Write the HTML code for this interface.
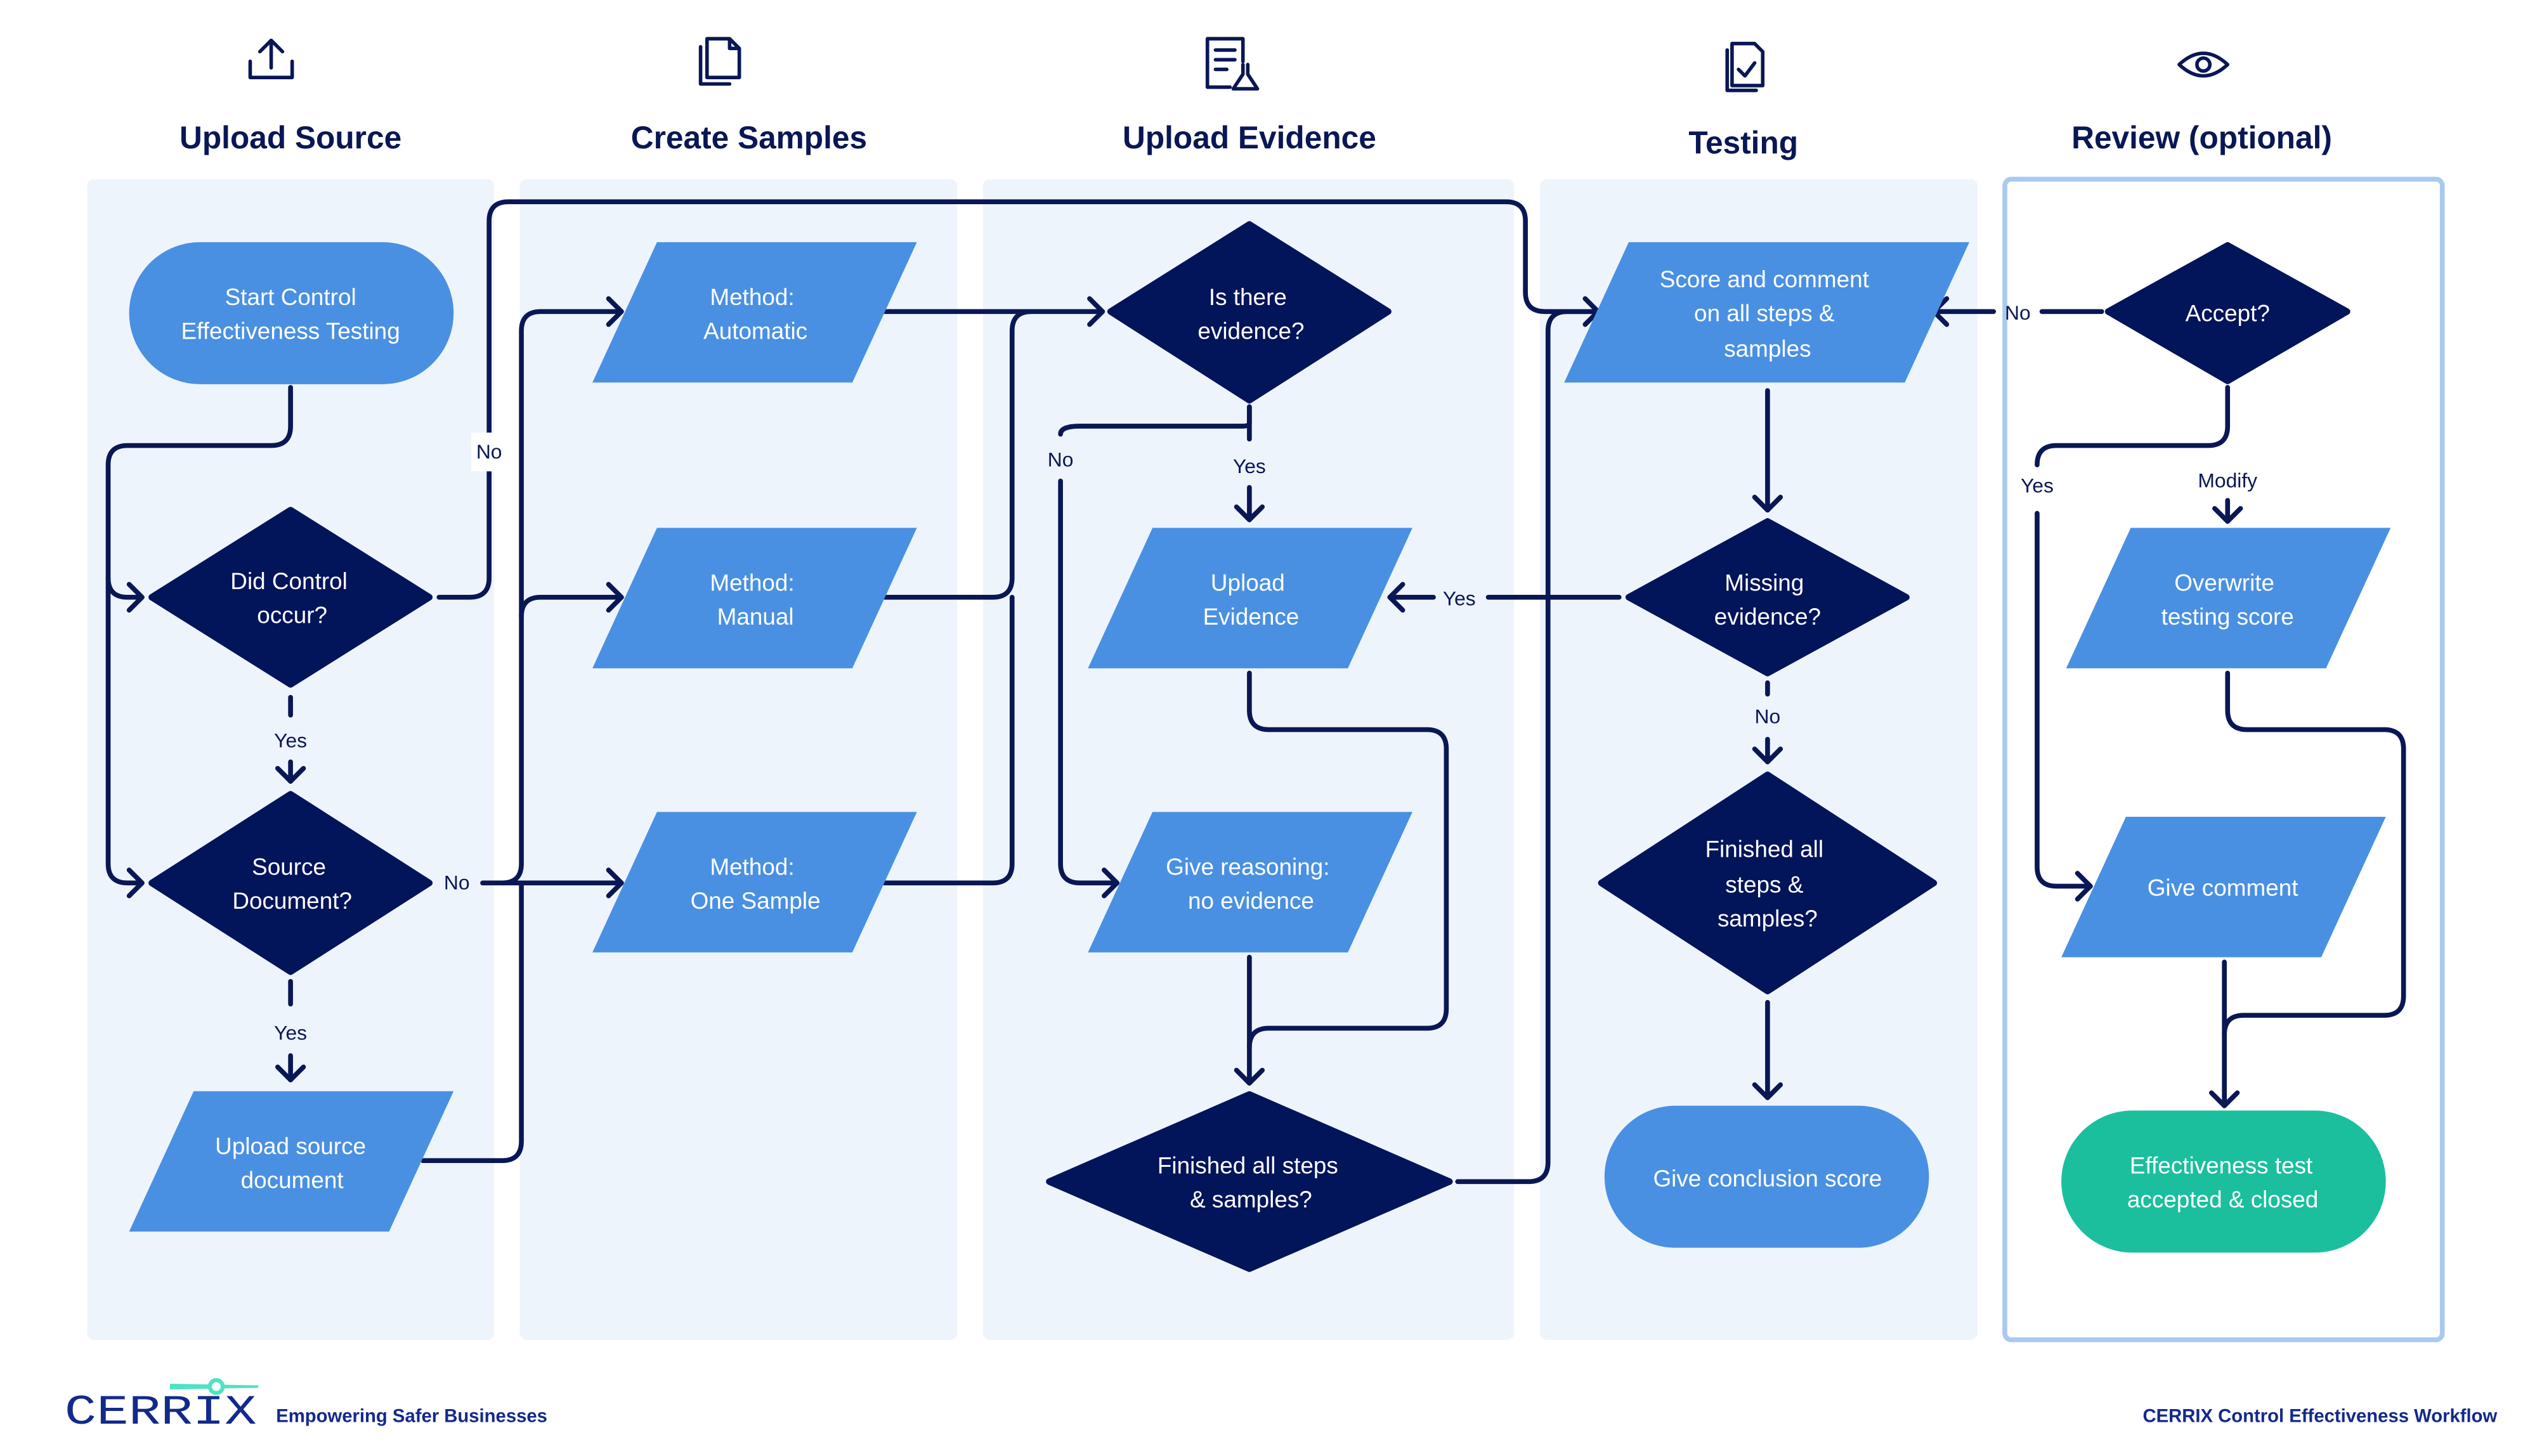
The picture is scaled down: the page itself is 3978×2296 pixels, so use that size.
<!DOCTYPE html>
<html><head><meta charset="utf-8"><style>
html,body{margin:0;padding:0;background:#fff}
svg{display:block}
text{font-family:"Liberation Sans",sans-serif}
.t{fill:#fff;font-size:14.5px;text-anchor:middle}
.h{fill:#0A1755;font-size:19.5px;font-weight:bold;text-anchor:middle}
.l{fill:#0A1755;font-size:12.5px;text-anchor:middle}
.c{fill:none;stroke:#0A1755;stroke-width:3;stroke-linecap:round;stroke-linejoin:round}
.ic{fill:none;stroke:#0A1755;stroke-width:2.2;stroke-linecap:round;stroke-linejoin:round}
</style></head><body>
<svg width="3978" height="2296" viewBox="0 0 1563 902" preserveAspectRatio="none" xmlns="http://www.w3.org/2000/svg">
<rect width="1563" height="902" fill="#fff"/>
<rect x="54" y="111" width="252" height="719" rx="4" fill="#EDF4FC"/>
<rect x="322" y="111" width="271" height="719" rx="4" fill="#EDF4FC"/>
<rect x="609" y="111" width="329" height="719" rx="4" fill="#EDF4FC"/>
<rect x="954" y="111" width="271" height="719" rx="4" fill="#EDF4FC"/>
<rect x="1242" y="111" width="271" height="719" rx="4" fill="#fff" stroke="#A9C9F1" stroke-width="3"/>
<text class="h" x="180" y="92">Upload Source</text>
<text class="h" x="464" y="92">Create Samples</text>
<text class="h" x="774" y="92">Upload Evidence</text>
<text class="h" x="1080" y="95">Testing</text>
<text class="h" x="1364" y="92">Review (optional)</text>
<g class="ic">
<path d="M155,38 V48 H181 V38 M168,26 V42 M161,32 L168,25 L175,32"/>
<path d="M438,24 H452 L458,30 V48 H438 Z M452,24 V30 H458 M434,29 V52 H452"/>
<path d="M748,24 H770 V38 M748,24 V54 H762 M753,31 H765 M753,37 H765 M753,43 H760 M770,40 V46 L764,55 H779 L773,46 V40"/>
<path d="M1073,27 H1087 L1092,32 V53 H1073 Z M1070,31 V56 H1088 M1077,43 L1081,47 L1087,39"/>
<path d="M1350,40 Q1365,26 1380,40 Q1365,54 1350,40 Z"/>
<circle cx="1365" cy="40" r="4"/>
</g>
<g class="c">
<path d="M180,240 V264 Q180,276 168,276 H79 Q67,276 67,288 V535 Q67,547 79,547 H88"/>
<path d="M67,358 Q67,370 79,370 H88"/>
<path d="M80,362 L88,370 L80,378"/><path d="M80,539 L88,547 L80,555"/>
<path d="M272,370 H291 Q303,370 303,358 V137 Q303,125 315,125 H933 Q945,125 945,137 V181 Q945,193 957,193 H990"/>
<path d="M982,185 L990,193 L982,201"/>
<path d="M180,432 V443"/><path d="M180,472 V484"/><path d="M172,476 L180,484 L188,476"/>
<path d="M299,547 H385"/><path d="M377,539 L385,547 L377,555"/>
<path d="M311,547 Q323,547 323,535 V205 Q323,193 335,193 H385"/><path d="M377,185 L385,193 L377,201"/>
<path d="M323,382 Q323,370 335,370 H385"/><path d="M377,362 L385,370 L377,378"/>
<path d="M262,719 H311 Q323,719 323,707 V547"/>
<path d="M180,608 V622"/><path d="M180,654 V669"/><path d="M172,661 L180,669 L188,661"/>
<path d="M548,193 H683"/><path d="M675,185 L683,193 L675,201"/>
<path d="M548,370 H615 Q627,370 627,358 V205 Q627,193 639,193"/>
<path d="M548,547 H615 Q627,547 627,535 V370"/>
<path d="M774,252 V262 Q774,264 770,264 H669 Q657,264 657,269"/>
<path d="M657,298 V535 Q657,547 669,547 H692"/><path d="M684,539 L692,547 L684,555"/>
<path d="M774,252 V272"/><path d="M774,302 V322"/><path d="M766,314 L774,322 L782,314"/>
<path d="M1003,370 H922"/><path d="M888,370 H861"/><path d="M869,362 L861,370 L869,378"/>
<path d="M774,417 V440 Q774,452 786,452 H884 Q896,452 896,464 V625 Q896,637 884,637 H786 Q774,637 774,649 V671"/>
<path d="M774,593 V649"/><path d="M766,663 L774,671 L782,663"/>
<path d="M903,732 H947 Q959,732 959,720 V205 Q959,193 971,193 H990"/>
<path d="M1095,242 V316"/><path d="M1087,308 L1095,316 L1103,308"/>
<path d="M1095,423 V430"/><path d="M1095,458 V472"/><path d="M1087,464 L1095,472 L1103,464"/>
<path d="M1095,621 V680"/><path d="M1087,672 L1095,680 L1103,672"/>
<path d="M1302,193 H1265"/><path d="M1235,193 H1198"/><path d="M1206,185 L1198,193 L1206,201"/>
<path d="M1380,240 V264 Q1380,276 1368,276 H1274 Q1262,276 1262,288"/>
<path d="M1262,318 V537 Q1262,549 1274,549 H1295"/><path d="M1287,541 L1295,549 L1287,557"/>
<path d="M1380,310 V323"/><path d="M1372,315 L1380,323 L1388,315"/>
<path d="M1380,417 V440 Q1380,452 1392,452 H1477 Q1489,452 1489,464 V617 Q1489,629 1477,629 H1390 Q1378,629 1378,641 V685"/>
<path d="M1378,596 V641"/><path d="M1370,677 L1378,685 L1386,677"/>
</g>
<rect x="292" y="268" width="22" height="24" fill="#fff"/>
<text class="l" x="303" y="284">No</text>
<text class="l" x="180" y="463">Yes</text>
<text class="l" x="283" y="551">No</text>
<text class="l" x="180" y="644">Yes</text>
<text class="l" x="657" y="289">No</text>
<text class="l" x="774" y="293">Yes</text>
<text class="l" x="904" y="375">Yes</text>
<text class="l" x="1095" y="448">No</text>
<text class="l" x="1250" y="198">No</text>
<text class="l" x="1262" y="305">Yes</text>
<text class="l" x="1380" y="302">Modify</text>
<g fill="#4A90E2">
<rect x="80" y="150" width="201" height="88" rx="44"/>
<path d="M120,676 H281 L241,763 H80 Z"/>
<path d="M407,150 H568 L528,237 H367 Z"/>
<path d="M407,327 H568 L528,414 H367 Z"/>
<path d="M407,503 H568 L528,590 H367 Z"/>
<path d="M714,327 H875 L835,414 H674 Z"/>
<path d="M714,503 H875 L835,590 H674 Z"/>
<path d="M1009,150 H1220 L1180,237 H969 Z"/>
<rect x="994" y="685" width="201" height="88" rx="44"/>
<path d="M1320,327 H1481 L1441,414 H1280 Z"/>
<path d="M1317,506 H1478 L1438,593 H1277 Z"/>
</g>
<rect x="1277" y="688" width="201" height="88" rx="44" fill="#1BBF9E"/>
<g fill="#02145A" stroke="#02145A" stroke-width="4" stroke-linejoin="round">
<path d="M180,316 L266,370 L180,424 L94,370 Z"/>
<path d="M180,492 L266,547 L180,602 L94,547 Z"/>
<path d="M774,139 L860,193 L774,248 L688,193 Z"/>
<path d="M774,678 L898,732 L774,786 L650,732 Z"/>
<path d="M1095,323 L1181,370 L1095,417 L1009,370 Z"/>
<path d="M1095,480 L1198,547 L1095,614 L992,547 Z"/>
<path d="M1380,152 L1454,193 L1380,236 L1306,193 Z"/>
</g>
<text class="t" x="180" y="189">Start Control</text><text class="t" x="180" y="210">Effectiveness Testing</text>
<text class="t" x="179" y="365">Did Control</text><text class="t" x="181" y="386">occur?</text>
<text class="t" x="179" y="542">Source</text><text class="t" x="181" y="563">Document?</text>
<text class="t" x="180" y="715">Upload source</text><text class="t" x="181" y="736">document</text>
<text class="t" x="466" y="189">Method:</text><text class="t" x="468" y="210">Automatic</text>
<text class="t" x="466" y="366">Method:</text><text class="t" x="468" y="387">Manual</text>
<text class="t" x="466" y="542">Method:</text><text class="t" x="468" y="563">One Sample</text>
<text class="t" x="773" y="189">Is there</text><text class="t" x="775" y="210">evidence?</text>
<text class="t" x="773" y="366">Upload</text><text class="t" x="775" y="387">Evidence</text>
<text class="t" x="773" y="542">Give reasoning:</text><text class="t" x="775" y="563">no evidence</text>
<text class="t" x="773" y="727">Finished all steps</text><text class="t" x="775" y="748">&amp; samples?</text>
<text class="t" x="1093" y="178">Score and comment</text><text class="t" x="1093" y="199">on all steps &amp;</text><text class="t" x="1095" y="221">samples</text>
<text class="t" x="1093" y="366">Missing</text><text class="t" x="1095" y="387">evidence?</text>
<text class="t" x="1093" y="531">Finished all</text><text class="t" x="1093" y="553">steps &amp;</text><text class="t" x="1095" y="574">samples?</text>
<text class="t" x="1095" y="735">Give conclusion score</text>
<text class="t" x="1380" y="199">Accept?</text>
<text class="t" x="1378" y="366">Overwrite</text><text class="t" x="1380" y="387">testing score</text>
<text class="t" x="1377" y="555">Give comment</text>
<text class="t" x="1376" y="727">Effectiveness test</text><text class="t" x="1377" y="748">accepted &amp; closed</text>
<path d="M106,860 L160,859 L106,858 Z" fill="#4FE3C2" stroke="#4FE3C2" stroke-width="1.5"/>
<circle cx="134" cy="859" r="4" fill="#fff" stroke="#4FE3C2" stroke-width="2.5"/>
<text x="40" y="882" fill="#13298C" font-size="26" textLength="119" lengthAdjust="spacingAndGlyphs" style="font-family:'Liberation Mono',monospace">CERRIX</text>
<text x="171" y="881" fill="#13298C" font-size="11.5" font-weight="bold">Empowering Safer Businesses</text>
<text x="1547" y="881" fill="#13298C" font-size="11.5" font-weight="bold" text-anchor="end">CERRIX Control Effectiveness Workflow</text>
</svg>
</body></html>
